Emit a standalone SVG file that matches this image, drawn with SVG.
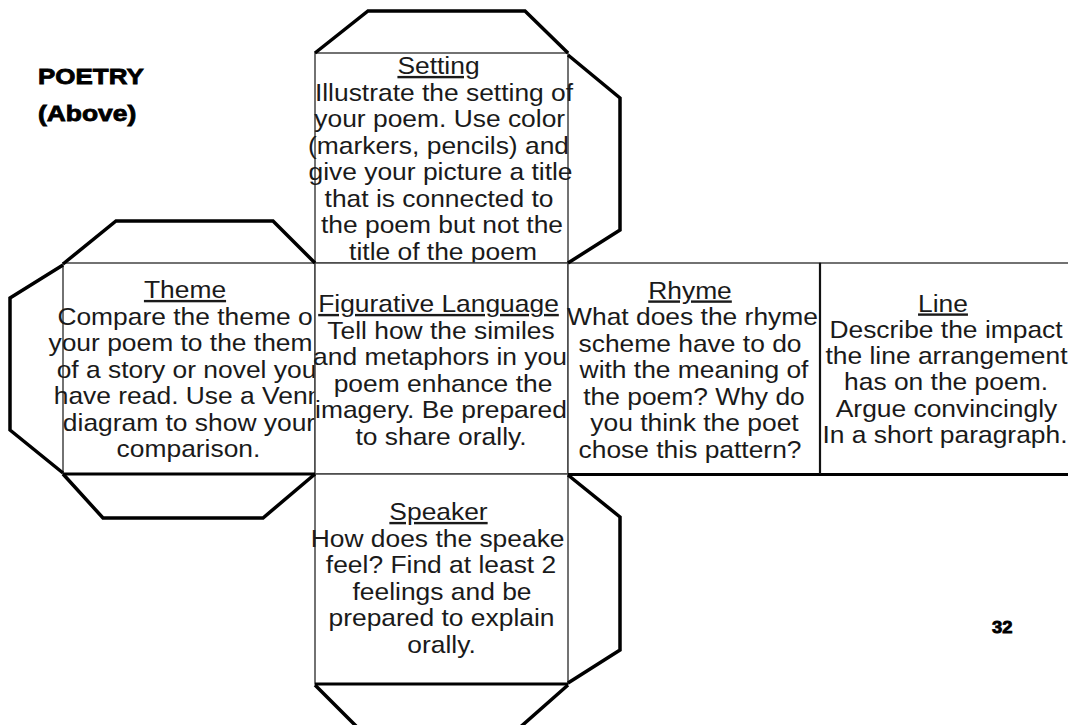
<svg xmlns="http://www.w3.org/2000/svg" width="1068" height="725" viewBox="0 0 1068 725">
<style>
.box{fill:#fff;stroke:#444;stroke-width:1.5}
.tab{fill:none;stroke:#000;stroke-width:3.5;stroke-linejoin:miter}
.fold{stroke:#000;stroke-width:3;fill:none}
.t{font-family:"Liberation Sans",Arial,sans-serif;font-size:24px;fill:#1a1a1a;text-anchor:middle}
.h{text-decoration:underline}
.b{font-family:"Liberation Sans",Arial,sans-serif;font-weight:bold;font-size:22px;fill:#000;stroke:#000;stroke-width:0.8}
</style>
<rect width="1068" height="725" fill="#fff"/>
<g id="label-poetry">
<text class="b" transform="translate(38,84) scale(1.18,1)">POETRY</text>
<text class="b" transform="translate(38,121) scale(1.2,1)">(Above)</text>
</g>
<g id="setting">
<rect class="box" x="315" y="53" width="253" height="210"/>
<text class="t h" transform="translate(438.5,74) scale(1.1,1)">Setting</text>
<text class="t" transform="translate(444,100.5) scale(1.1,1)">Illustrate the setting of</text>
<text class="t" transform="translate(439.7,127) scale(1.1,1)">your poem. Use color</text>
<text class="t" transform="translate(438.5,153.5) scale(1.1,1)">(markers, pencils) and</text>
<text class="t" transform="translate(440.5,180) scale(1.1,1)">give your picture a title</text>
<text class="t" transform="translate(439,206.5) scale(1.1,1)">that is connected to</text>
<text class="t" transform="translate(442,233) scale(1.1,1)">the poem but not the</text>
<text class="t" transform="translate(443,259.5) scale(1.1,1)">title of the poem</text>
</g>
<g id="theme">
<rect class="box" x="63" y="263" width="252" height="211"/>
<text class="t h" transform="translate(185,298) scale(1.1,1)">Theme</text>
<text class="t" transform="translate(185,324.5) scale(1.1,1)">Compare the theme o</text>
<text class="t" transform="translate(180.5,351) scale(1.1,1)">your poem to the them</text>
<text class="t" transform="translate(186.5,377.5) scale(1.1,1)">of a story or novel you</text>
<text class="t" transform="translate(188,404) scale(1.1,1)">have read. Use a Venn</text>
<text class="t" transform="translate(189,430.5) scale(1.1,1)">diagram to show your</text>
<text class="t" transform="translate(188.5,457) scale(1.1,1)">comparison.</text>
</g>
<g id="figurative-language">
<rect class="box" x="315" y="263" width="253" height="211"/>
<text class="t h" transform="translate(438.5,312) scale(1.1,1)">Figurative Language</text>
<text class="t" transform="translate(441,338.5) scale(1.1,1)">Tell how the similes</text>
<text class="t" transform="translate(440,365) scale(1.1,1)">and metaphors in you</text>
<text class="t" transform="translate(443,391.5) scale(1.1,1)">poem enhance the</text>
<text class="t" transform="translate(441,418) scale(1.1,1)">imagery. Be prepared</text>
<text class="t" transform="translate(441,444.5) scale(1.1,1)">to share orally.</text>
</g>
<g id="rhyme">
<rect class="box" x="568" y="263" width="252" height="211"/>
<text class="t h" transform="translate(690,298.5) scale(1.1,1)">Rhyme</text>
<text class="t" transform="translate(692.5,325) scale(1.1,1)">What does the rhyme</text>
<text class="t" transform="translate(690,351.5) scale(1.1,1)">scheme have to do</text>
<text class="t" transform="translate(694,378) scale(1.1,1)">with the meaning of</text>
<text class="t" transform="translate(694,404.5) scale(1.1,1)">the poem? Why do</text>
<text class="t" transform="translate(694.5,431) scale(1.1,1)">you think the poet</text>
<text class="t" transform="translate(690,457.5) scale(1.1,1)">chose this pattern?</text>
</g>
<g id="line">
<rect class="box" x="820" y="263" width="260" height="211"/>
<text class="t h" transform="translate(943,311.5) scale(1.1,1)">Line</text>
<text class="t" transform="translate(946,337.8) scale(1.1,1)">Describe the impact</text>
<text class="t" transform="translate(946.5,364.1) scale(1.1,1)">the line arrangement</text>
<text class="t" transform="translate(946,390.4) scale(1.1,1)">has on the poem.</text>
<text class="t" transform="translate(946.5,416.7) scale(1.1,1)">Argue convincingly</text>
<text class="t" transform="translate(945,443) scale(1.1,1)">In a short paragraph.</text>
</g>
<g id="speaker">
<rect class="box" x="315" y="474" width="253" height="210"/>
<text class="t h" transform="translate(438.5,520) scale(1.1,1)">Speaker</text>
<text class="t" transform="translate(437.6,546.5) scale(1.1,1)">How does the speake</text>
<text class="t" transform="translate(441,573) scale(1.1,1)">feel? Find at least 2</text>
<text class="t" transform="translate(442,599.5) scale(1.1,1)">feelings and be</text>
<text class="t" transform="translate(441.5,626) scale(1.1,1)">prepared to explain</text>
<text class="t" transform="translate(441.5,652.5) scale(1.1,1)">orally.</text>
</g>
<g id="connectors">
<line class="fold" x1="63" y1="474" x2="315" y2="474"/>
<line class="fold" x1="568" y1="474.5" x2="1068" y2="474.5"/>
<line class="fold" x1="315" y1="684" x2="568" y2="684"/>
<line x1="820" y1="263" x2="820" y2="474" stroke="#111" stroke-width="2.2"/>
<polyline class="tab" points="315,53 368,11 525,11 568,53"/>
<polyline class="tab" points="568,55 620,98 620,230 568,263"/>
<polyline class="tab" points="63,264 116,221 273,221 315,263"/>
<polyline class="tab" points="63,265 10,298 10,430 63,473"/>
<polyline class="tab" points="63,474 103,518 263,518 315,474"/>
<polyline class="tab" points="568,475 620,517 620,650 568,683"/>
<polyline class="tab" points="315,685 375,745 500,745 568,685"/>
</g>
<g id="page-number">
<text class="b" style="font-size:16px" transform="translate(992,633) scale(1.15,1)">32</text>
</g>
</svg>
